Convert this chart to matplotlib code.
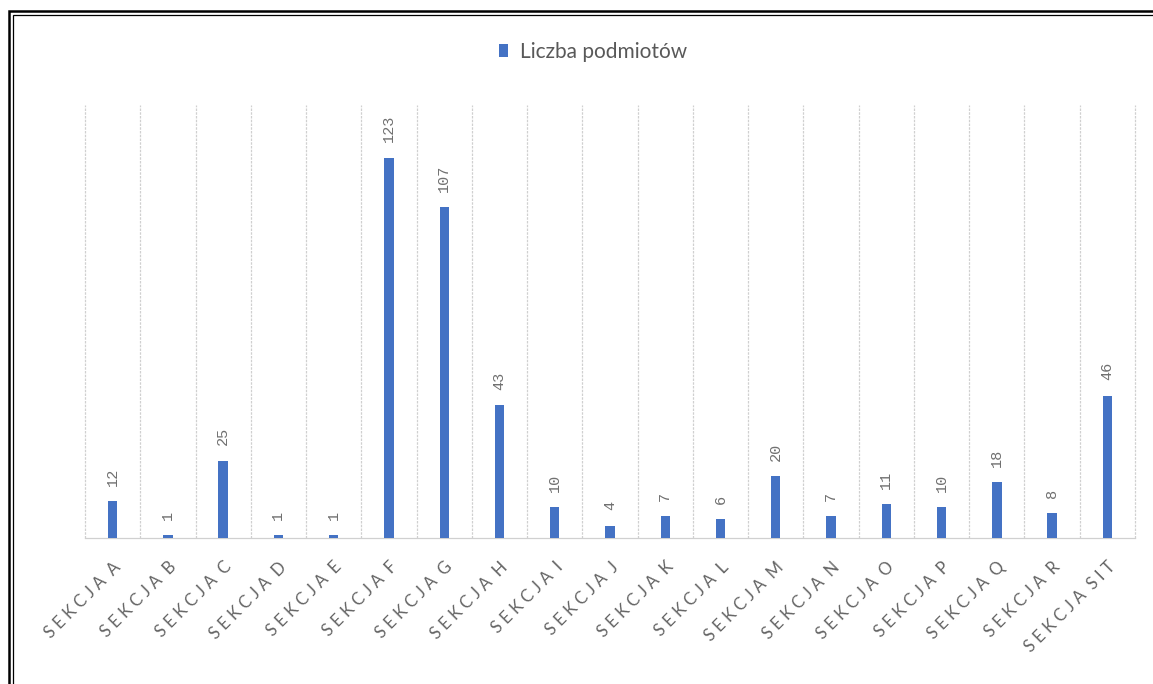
import matplotlib.pyplot as plt
from matplotlib.patches import Rectangle

letters = ["A", "B", "C", "D", "E", "F", "G", "H", "I", "J",
           "K", "L", "M", "N", "O", "P", "Q", "R", "S I T"]
values = [12, 1, 25, 1, 1, 123, 107, 43, 10, 4, 7, 6, 20, 7, 11, 10, 18, 8, 46]
series_name = "Liczba podmiotów"

blue = "#4472C4"
grey = "#595959"
gap = " "


def spaced(s, sep=gap):
    return sep.join(s)


labels = [spaced("SEKCJA") + "  " + spaced(l.replace(" ", "")) for l in letters]

plt.rcParams['font.family'] = ['Lato', 'DejaVu Sans']

W, H = 1153, 684
fig = plt.figure(figsize=(W / 100, H / 100), dpi=100)
ax = fig.add_axes([85 / W, 1 - 538 / H, (1135 - 85) / W, (538 - 105) / H])

x = list(range(len(values)))
bars = ax.bar(x, values, width=0.17, color=blue, label=series_name, zorder=3)

ax.set_xlim(-0.5, len(values) - 0.5)
ax.set_ylim(0, 140)

# vertical dashed gridlines at category boundaries
for b in range(len(values) + 1):
    ax.axvline(b - 0.5, color="#d0d0d0", lw=0.9, ls=(0, (2, 1)), zorder=1,
               clip_on=False)

for s in ["top", "left", "right"]:
    ax.spines[s].set_visible(False)
ax.spines["bottom"].set_color("#d0d0d0")
ax.spines["bottom"].set_linewidth(0.9)

ax.set_yticks([])
ax.set_xticks(x)
ax.set_xticklabels(labels, rotation=45, ha="right", rotation_mode="anchor",
                   fontsize=12, color="#646464")
ax.tick_params(axis="x", length=0, pad=15)

for xi, v in zip(x, values):
    ax.annotate(str(v), (xi, v), xytext=(0, 11), textcoords="offset points",
                rotation=90, ha="center", va="bottom", fontsize=11,
                color="#707070", family="Liberation Mono")

fig.legend(handles=[bars], labels=[series_name], loc="center",
           bbox_to_anchor=(593 / W, 1 - 52 / H), frameon=False, fontsize=15,
           labelcolor=grey, handlelength=0.45, handleheight=0.55, handletextpad=0.55)

# double frame around the chart
fig.patches.append(Rectangle((8.5 / W, -0.1), 1.2, 1 - 11 / H + 0.1,
                             transform=fig.transFigure, fill=False,
                             ec="black", lw=1.8))
fig.patches.append(Rectangle((12.5 / W, -0.1), 1.2, 1 - 15 / H + 0.1,
                             transform=fig.transFigure, fill=False,
                             ec="black", lw=0.9))

fig.savefig("out.png", dpi=100)
